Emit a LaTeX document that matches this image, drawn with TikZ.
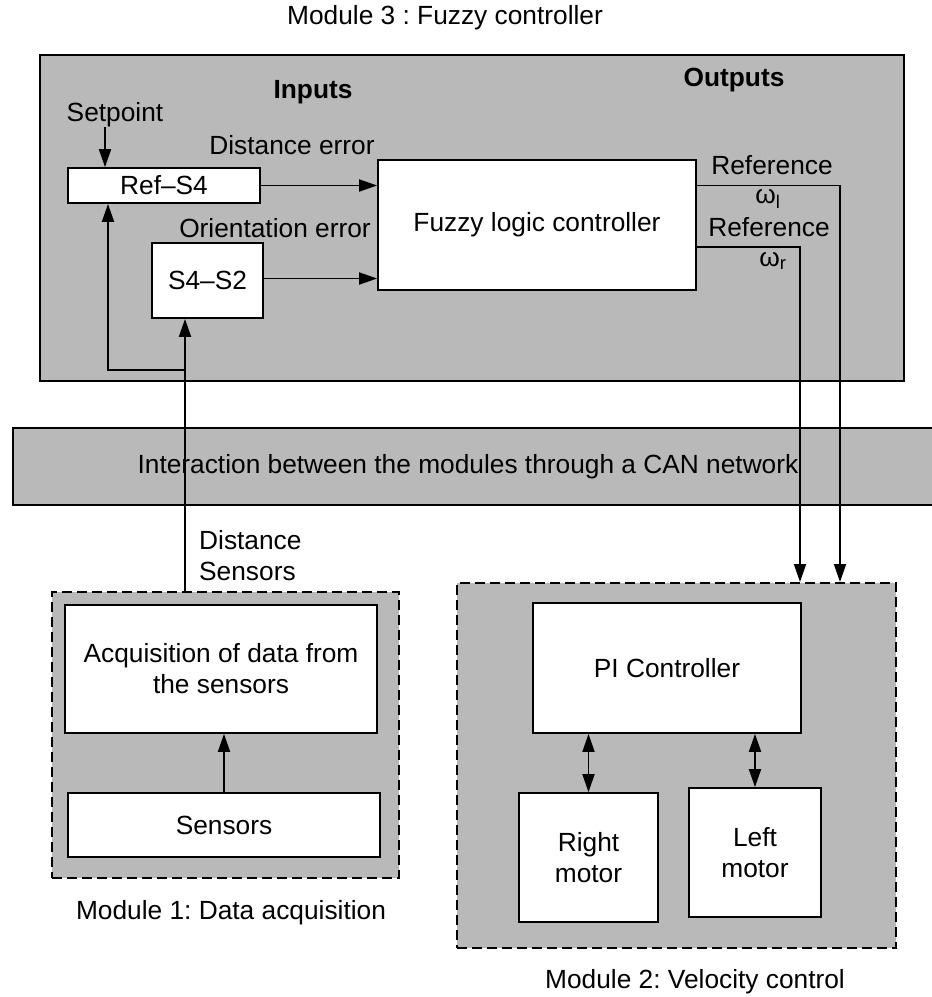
\documentclass[tikz,border=0pt]{standalone}
\usepackage{fontspec}
\setmainfont{Liberation Sans}
\usetikzlibrary{arrows.meta}
\definecolor{bg}{RGB}{185,185,185}
\frenchspacing
\begin{document}
\begin{tikzpicture}[x=1pt,y=-1pt,
  font=\fontsize{26.3}{31}\selectfont,
  wbox/.style={draw, fill=white, line width=1.8pt, inner sep=0pt, align=center},
  modsolid/.style={draw, fill=bg, line width=2pt, inner sep=0pt},
  moddash/.style={draw, fill=bg, line width=2pt, inner sep=0pt, dash pattern=on 10pt off 5pt},
  arr/.style={line width=1.9pt, -{Triangle[length=18pt,width=12pt]}},
  darr/.style={line width=1.9pt, {Triangle[length=18pt,width=12pt]}-{Triangle[length=18pt,width=12pt]}},
  lbl/.style={inner sep=0pt, align=center}]
\useasboundingbox (0,0) rectangle (932,997);

% module frames
\node[modsolid, minimum width=864pt, minimum height=326pt] (m3) at (472,218) {};
\node[moddash, minimum width=347pt, minimum height=286pt] (m1) at (225.5,735) {};
\node[moddash, minimum width=439pt, minimum height=365pt] (m2) at (676.5,765.5) {};

% CAN band
\fill[bg] (13,428) rectangle (932,505);
\draw[line width=1.8pt] (932,428) -- (13,428) -- (13,505) -- (932,505);
\node[lbl] (can) at (468,467) {Interaction between the modules through a CAN network};

% titles
\node[lbl] (t3) at (445,18) {Module 3 : Fuzzy controller};
\node[lbl] (t1) at (231,913) {Module 1: Data acquisition};
\node[lbl] (t2) at (695,982) {Module 2: Velocity control};

% module 3 content
\node[lbl, font=\fontsize{26.3}{31}\selectfont\bfseries] (inp) at (313,92) {Inputs};
\node[lbl, font=\fontsize{26.3}{31}\selectfont\bfseries] (outp) at (734,80) {Outputs};
\node[lbl] (setp) at (115,115) {Setpoint};
\node[lbl] (derr) at (292,145) {Distance error};
\node[lbl] (oerr) at (275,228) {Orientation error};

\node[wbox, minimum width=192pt, minimum height=35pt] (refs4) at (164,185.5) {Ref–S4};
\node[wbox, minimum width=111pt, minimum height=75pt] (s4s2) at (207.5,280.5) {S4–S2};
\node[wbox, minimum width=318pt, minimum height=130pt] (fuzzy) at (537,225) {Fuzzy logic controller};

\node[lbl] (ref1) at (772,165) {Reference};
\node[lbl] (wl) at (768,199) {ω\textsubscript{l}};
\node[lbl] (ref2) at (769,227) {Reference};
\node[lbl] (wr) at (773,261) {ω\textsubscript{r}};

% module 1 content
\node[wbox, minimum width=312pt, minimum height=128pt] (acq) at (221,669) {Acquisition of data from\\the sensors};
\node[wbox, minimum width=312pt, minimum height=64pt] (sens) at (224,825) {Sensors};
\node[lbl, align=left, anchor=west] (ds) at (199,556) {Distance\\Sensors};

% module 2 content
\node[wbox, minimum width=268pt, minimum height=130pt] (pi) at (667,668) {PI Controller};
\node[wbox, minimum width=139pt, minimum height=129pt] (rmot) at (588.5,857.5) {Right\\motor};
\node[wbox, minimum width=132pt, minimum height=129pt] (lmot) at (755,852.5) {Left\\motor};

% helper coordinates
\coordinate (fb) at (185,370);
\coordinate (xl) at (840,0);
\coordinate (xr) at (800,0);

% connectors
\draw[arr] ([xshift=-10pt]setp.south) -- ([xshift=-10pt]setp.south |- refs4.north);
\draw[arr] (refs4.east) -- (refs4.east -| fuzzy.west);
\draw[arr] ([yshift=2pt]s4s2.east) -- ([yshift=2pt]s4s2.east -| fuzzy.west);
\draw[arr] (m1.north -| fb) -- (s4s2.south -| fb);
\draw[arr] (fb) -| ([xshift=-56pt]refs4.south);
\draw[arr] (fuzzy.east |- refs4.east) -| (m2.north -| xl);
\draw[arr] ([yshift=-22pt]fuzzy.east) -| (m2.north -| xr);
\draw[arr] (sens.north) -- (sens.north |- acq.south);
\draw[darr] (pi.south -| rmot.north) -- (rmot.north);
\draw[darr] (pi.south -| lmot.north) -- (lmot.north);
\end{tikzpicture}
\end{document}
